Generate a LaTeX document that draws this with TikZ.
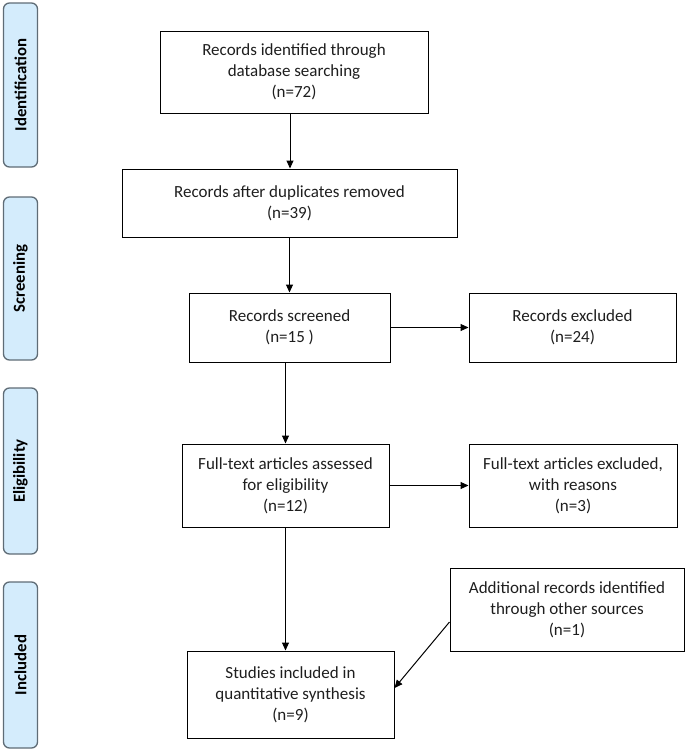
\documentclass[tikz,border=0pt]{standalone}
\usepackage{fontspec}
\setmainfont{Carlito}
\usetikzlibrary{arrows.meta}
\definecolor{phasefill}{RGB}{212,236,252}
\definecolor{phaseline}{RGB}{95,108,118}
\definecolor{inktext}{RGB}{30,30,30}
\tikzset{x=1pt, y=-1pt,
    box/.style={draw, line width=1pt, align=center, inner sep=2pt,
        text=inktext, font=\fontsize{17}{21}\selectfont},
    phase/.style={draw=phaseline, fill=phasefill, line width=1.3pt,
        rounded corners=6pt, rotate=90, minimum height=34pt,
        font=\bfseries\fontsize{16.8}{20}\selectfont},
    flow/.style={-{Triangle[length=8pt,width=7pt]}, line width=1pt},
    }
\begin{document}
\begin{tikzpicture}
\useasboundingbox (0,0) rectangle (685,750);
% phases on the left
\node[phase, minimum width=164pt] (pident) at (20.5,85) {Identification};
\node[phase, minimum width=163pt] (pscreen) at (20.5,278.5) {Screening};
\node[phase, minimum width=166pt] (pelig) at (20.5,471) {Eligibility};
\node[phase, minimum width=166pt] (pincl) at (20.5,665) {Included};
% records
\node[box, minimum width=268pt, minimum height=82pt] (found) at (294,72)
    {Records identified through\\database searching\\(n=72)};
\node[box, minimum width=335pt, minimum height=68pt] (nodup) at (289.5,203)
    {Records after duplicates removed\\(n=39)};
\node[box, minimum width=201pt, minimum height=69pt] (screened) at (289.5,327.5)
    {Records screened\\(n=15 )};
\node[box, minimum width=207pt, minimum height=69pt] (excl) at (572.5,327.5)
    {Records excluded\\(n=24)};
\node[box, minimum width=207pt, minimum height=83pt] (fulltext) at (285.5,485.5)
    {Full-text articles assessed\\for eligibility\\(n=12)};
\node[box, minimum width=208pt, minimum height=83pt] (ftexcl) at (573,485.5)
    {Full-text articles excluded,\\with reasons\\(n=3)};
\node[box, minimum width=234pt, minimum height=83pt] (other) at (567,609.5)
    {Additional records identified\\through other sources\\(n=1)};
\node[box, minimum width=207pt, minimum height=87pt] (incl) at (290.5,694.5)
    {Studies included in\\quantitative synthesis\\(n=9)};
% arrows
\draw[flow] (found.south -| 290,0) -- (nodup.north -| 290,0);
\draw[flow] (nodup.south) -- (screened.north);
\draw[flow] (screened.east) -- (excl.west);
\draw[flow] (screened.south -| fulltext) -- (fulltext.north);
\draw[flow] (fulltext.east) -- (ftexcl.west);
\draw[flow] (fulltext.south) -- (incl.north -| fulltext);
\draw[flow] (other.west |- 0,622) -- (incl.east |- 0,688);
\end{tikzpicture}
\end{document}
